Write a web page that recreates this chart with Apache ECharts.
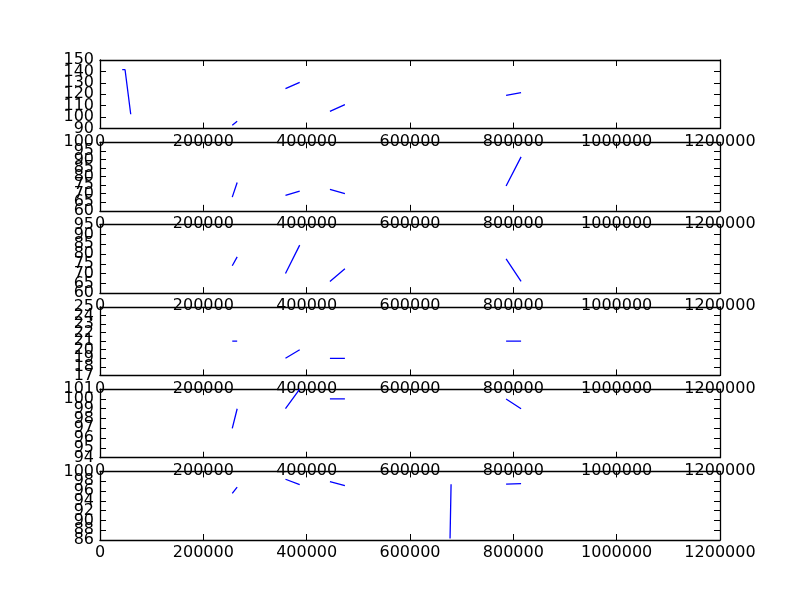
<!DOCTYPE html>
<html>
<head>
<meta charset="utf-8">
<script src="https://cdn.jsdelivr.net/npm/echarts@6/dist/echarts.min.js"></script>
<style>html,body{margin:0;padding:0;background:#fff}#c{width:800px;height:600px}</style>
</head>
<body>
<div id="c"></div>
<script>
// x positions (null y values mark breaks between segments)
var xs = [43000, 48500, 59500, 150000, 256000, 265500, 310000, 359000, 386500, 415000, 445000, 474000, 560000, 677500, 679500, 730000, 786000, 815000];
var s1 = [141.5, 141.5, 102.5, null, 93, 96.5, null, 125, 130.5, null, 105, 111, null, null, null, null, 119, 121.5];
var s2 = [null, null, null, null, 68, 76.5, null, 69, 71.5, null, 72.5, 70, null, null, null, null, 74.5, 91.5];
var s3 = [null, null, null, null, 74, 78.5, null, 70, 84.5, null, 66, 72.5, null, null, null, null, 77.5, 66];
var s4 = [null, null, null, null, 21, 21, null, 19, 20, null, 19, 19, null, null, null, null, 21, 21];
var s5 = [null, null, null, null, 97, 99, null, 99, 101, null, 100, 100, null, null, null, null, 100, 99];
var s6 = [null, null, null, null, 95.5, 96.8, null, 98.4, 97.3, null, 97.9, 97.1, null, 86.3, 97.4, null, 97.4, 97.5];
var seriesVals = [s1, s2, s3, s4, s5, s6];
// y tick labels per subplot
var yTicks = [
  [90, 100, 110, 120, 130, 140, 150],
  [60, 65, 70, 75, 80, 85, 90, 95, 100],
  [60, 65, 70, 75, 80, 85, 90, 95],
  [17, 18, 19, 20, 21, 22, 23, 24, 25],
  [94, 95, 96, 97, 98, 99, 100, 101],
  [86, 88, 90, 92, 94, 96, 98, 100]
];
var xTicks = [0, 200000, 400000, 600000, 800000, 1000000, 1200000];

var chart = echarts.init(document.getElementById('c'), null, {renderer: 'canvas'});
var font = {fontFamily: 'DejaVu Sans', fontSize: 16, color: '#000'};
var plain = function (v) { return String(v); };
var grids = [], xAxes = [], yAxes = [], series = [];
var h = 480 / 7, gap = h * 0.2;
var Y_PER = 5;
for (var i = 0; i < 6; i++) {
  grids.push({left: 100, width: 620, top: 60 + i * (h + gap), height: h, show: false});
  var yt = yTicks[i];
  var yMin = yt[0], yMax = yt[yt.length - 1];
  var xMin = xTicks[0], xMax = xTicks[xTicks.length - 1];
  var common = {type: 'value', gridIndex: i, splitLine: {show: false},
    axisLine: {show: true, onZero: false, lineStyle: {color: '#000', width: 1.3}}};
  var tick = function (vals) { return {show: true, inside: true, length: 6, customValues: vals, lineStyle: {color: '#000', width: 1}}; };
  var lab = {show: true, formatter: plain, hideOverlap: false, showMinLabel: true, showMaxLabel: true};
  xAxes.push(Object.assign({}, common, {position: 'bottom', min: xMin, max: xMax, axisTick: tick(xTicks),
    axisLabel: Object.assign({margin: 5, customValues: xTicks}, lab, font)}));
  xAxes.push(Object.assign({}, common, {position: 'top', min: xMin, max: xMax, axisTick: tick(xTicks), axisLabel: {show: false}}));
  yAxes.push(Object.assign({}, common, {position: 'left', min: yMin, max: yMax, axisTick: tick(yt), axisLabel: {show: false}}));
  yAxes.push(Object.assign({}, common, {position: 'right', min: yMin, max: yMax, axisTick: tick(yt), axisLabel: {show: false}}));
  // labels split across three overlaid axes so none are auto-hidden
  for (var r = 0; r < 3; r++) {
    var sub = yt.filter(function (v, k) { return k % 3 === r; });
    yAxes.push({type: 'value', gridIndex: i, position: 'left', min: yMin, max: yMax, splitLine: {show: false},
      axisLine: {show: false}, axisTick: {show: false},
      axisLabel: Object.assign({margin: 6, customValues: sub}, lab, font)});
  }
  var vals = seriesVals[i];
  var data = xs.map(function (x, k) { return [x, vals[k]]; });
  series.push({type: 'line', xAxisIndex: 2 * i, yAxisIndex: Y_PER * i, data: data, showSymbol: false, symbol: 'none',
    connectNulls: false, clip: true, lineStyle: {color: '#0000ff', width: 1.3}, silent: true});
}
chart.setOption({animation: false, backgroundColor: '#fff', grid: grids, xAxis: xAxes, yAxis: yAxes, series: series});
</script>
</body>
</html>
